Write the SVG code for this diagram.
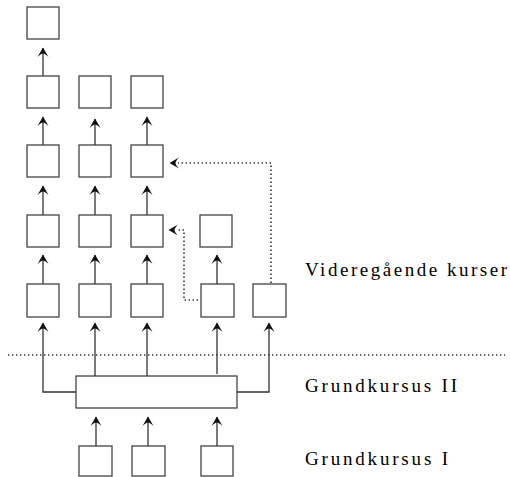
<svg xmlns="http://www.w3.org/2000/svg" width="510" height="477" viewBox="0 0 510 477">
<defs>
<marker id="ah" viewBox="-10 -6 11 12" markerWidth="11" markerHeight="12" refX="0" refY="0" orient="auto" markerUnits="userSpaceOnUse" overflow="visible">
<path d="M0.5,0 L-9,-5.5 Q-5.5,-2 -5.5,0 Q-5.5,2 -9,5.5 Z" fill="#111"/>
</marker>
<style>
.box{fill:#fff;stroke:#444;stroke-width:1.3}
.ln{fill:none;stroke:#333;stroke-width:1.3}
.dot{fill:none;stroke:#333;stroke-width:1.6;stroke-dasharray:1.4 2.6}
.lbl{font-family:"Liberation Serif",serif;font-size:19px;fill:#000}
</style>
</defs>
<rect width="510" height="477" fill="#fff"/>
<g id="c1r1"><rect class="box" x="27" y="7" width="32" height="32"/></g>
<g id="c1r2"><rect class="box" x="27" y="76" width="32" height="32"/></g>
<g id="c2r2"><rect class="box" x="79" y="76" width="32" height="32"/></g>
<g id="c3r2"><rect class="box" x="131" y="76" width="32" height="32"/></g>
<g id="c1r3"><rect class="box" x="27" y="145" width="32" height="32"/></g>
<g id="c2r3"><rect class="box" x="79" y="145" width="32" height="32"/></g>
<g id="c3r3"><rect class="box" x="131" y="145" width="32" height="32"/></g>
<g id="c1r4"><rect class="box" x="27" y="215" width="32" height="32"/></g>
<g id="c2r4"><rect class="box" x="79" y="215" width="32" height="32"/></g>
<g id="c3r4"><rect class="box" x="131" y="215" width="32" height="32"/></g>
<g id="c4r4"><rect class="box" x="200" y="215" width="32" height="32"/></g>
<g id="c1r5"><rect class="box" x="27" y="284" width="32" height="33"/></g>
<g id="c2r5"><rect class="box" x="79" y="284" width="32" height="33"/></g>
<g id="c3r5"><rect class="box" x="131" y="284" width="32" height="33"/></g>
<g id="c4r5"><rect class="box" x="201" y="284" width="33" height="33"/></g>
<g id="c5r5"><rect class="box" x="253" y="284" width="33" height="33"/></g>
<g id="gk2"><rect class="box" x="76" y="376" width="161" height="32"/></g>
<g id="gk1a"><rect class="box" x="79" y="446" width="33" height="30"/></g>
<g id="gk1b"><rect class="box" x="132" y="446" width="33" height="30"/></g>
<g id="gk1c"><rect class="box" x="201" y="446" width="32" height="30"/></g>
<g id="connectors">
<path class="ln" d="M43,76 V48" marker-end="url(#ah)"/>
<path class="ln" d="M43,145 V117" marker-end="url(#ah)"/>
<path class="ln" d="M95,145 V119" marker-end="url(#ah)"/>
<path class="ln" d="M147,145 V117" marker-end="url(#ah)"/>
<path class="ln" d="M43,215 V186" marker-end="url(#ah)"/>
<path class="ln" d="M95,215 V186" marker-end="url(#ah)"/>
<path class="ln" d="M147,215 V186" marker-end="url(#ah)"/>
<path class="ln" d="M43,284 V255" marker-end="url(#ah)"/>
<path class="ln" d="M95,284 V255" marker-end="url(#ah)"/>
<path class="ln" d="M147,284 V255" marker-end="url(#ah)"/>
<path class="ln" d="M217,284 V255" marker-end="url(#ah)"/>
<path class="ln" d="M76,392 H43 V323" marker-end="url(#ah)"/>
<path class="ln" d="M95,376 V323" marker-end="url(#ah)"/>
<path class="ln" d="M147,376 V323" marker-end="url(#ah)"/>
<path class="ln" d="M217,374 V323" marker-end="url(#ah)"/>
<path class="ln" d="M237,392 H269 V323" marker-end="url(#ah)"/>
<path class="ln" d="M96,446 V417" marker-end="url(#ah)"/>
<path class="ln" d="M148,446 V417" marker-end="url(#ah)"/>
<path class="ln" d="M217,446 V417" marker-end="url(#ah)"/>
<path class="dot" d="M271,283 V163 H178"/>
<path class="dot" d="M198,300 H184 V230 H178"/>
<path d="M169.5,163 L179,157.5 Q175.5,161 175.5,163 Q175.5,165 179,168.5 Z" fill="#111"/>
<path d="M168.5,230 L178,224.5 Q174.5,228 174.5,230 Q174.5,232 178,235.5 Z" fill="#111"/>
<path class="dot" d="M8,355 H505"/>
</g>
<g id="labels">
<text class="lbl" x="305" y="276" textLength="202" lengthAdjust="spacing">Videregående  kurser</text>
<text class="lbl" x="305" y="392" textLength="152" lengthAdjust="spacing">Grundkursus  II</text>
<text class="lbl" x="305" y="465" textLength="143" lengthAdjust="spacing">Grundkursus  I</text>
</g>
</svg>
